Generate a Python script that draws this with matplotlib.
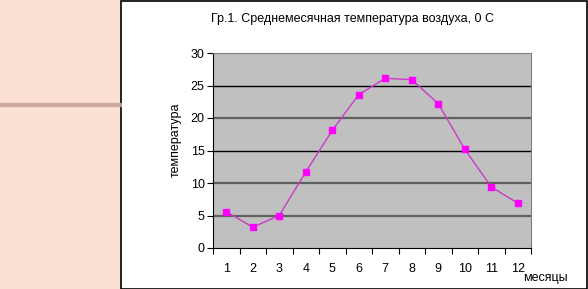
import matplotlib.pyplot as plt
from matplotlib.patches import Rectangle
from matplotlib.lines import Line2D

months = list(range(1, 13))
temps = [5.6, 3.2, 5.0, 11.7, 18.1, 23.6, 26.1, 25.9, 22.2, 15.2, 9.4, 6.9]
yticks = [0, 5, 10, 15, 20, 25, 30]

plt.rcParams["font.family"] = ["Liberation Sans", "DejaVu Sans"]

fig = plt.figure(figsize=(5.88, 2.89), dpi=100, facecolor="#fbe0d4")

# white chart frame on the right
fig.patches.append(
    Rectangle((121 / 588, 0.5 / 289), 466 / 588, 287.5 / 289,
              transform=fig.transFigure, facecolor="white",
              edgecolor="black", linewidth=1.2, zorder=-1)
)
# brownish strip on the left
fig.lines.append(
    Line2D([0, 120 / 588], [1 - 105 / 289, 1 - 105 / 289],
           transform=fig.transFigure, color="#c9a596", linewidth=3, alpha=0.9)
)

ax = fig.add_axes([213 / 588, 1 - 248 / 289, 318 / 588, 195 / 289])
ax.set_facecolor("#c0c0c0")

for v in yticks[1:-1]:
    if v in (5, 10, 20):
        ax.axhline(v, color="#606060", linewidth=1.6, zorder=1)
    else:
        ax.axhline(v, color="black", linewidth=1.0, zorder=1)

ax.plot(months, temps, color="#c83cc8", linewidth=1.0, zorder=2)
ax.plot(months, temps, linestyle="none", marker="s", markersize=5,
        color="#ff00ff", zorder=3)

ax.set_xlim(0.5, 12.5)
ax.set_ylim(0, 30)
ax.set_yticks(yticks)
ax.set_xticks(months)
ax.set_xticks([m + 0.5 for m in range(0, 13)], minor=True)
ax.tick_params(axis="x", which="major", length=0, pad=11, labelsize=9)
ax.tick_params(axis="x", which="minor", length=4, direction="out", width=0.8)
ax.tick_params(axis="y", length=4, direction="out", width=0.8, labelsize=9, pad=2)

for side in ("top", "right"):
    ax.spines[side].set_color("#808080")
ax.spines["left"].set_color("black")
ax.spines["bottom"].set_color("black")

fig.text(353 / 588, 1 - 19 / 289, "Гр.1. Среднемесячная температура воздуха, 0 С",
         ha="center", va="center", fontsize=9)
fig.text(176 / 588, 1 - 140 / 289, "температура", rotation=90,
         ha="center", va="center", fontsize=9)
fig.text(545 / 588, 1 - 278 / 289, "месяцы", ha="center", va="center", fontsize=9)

fig.savefig("out.png", dpi=100, facecolor=fig.get_facecolor())
